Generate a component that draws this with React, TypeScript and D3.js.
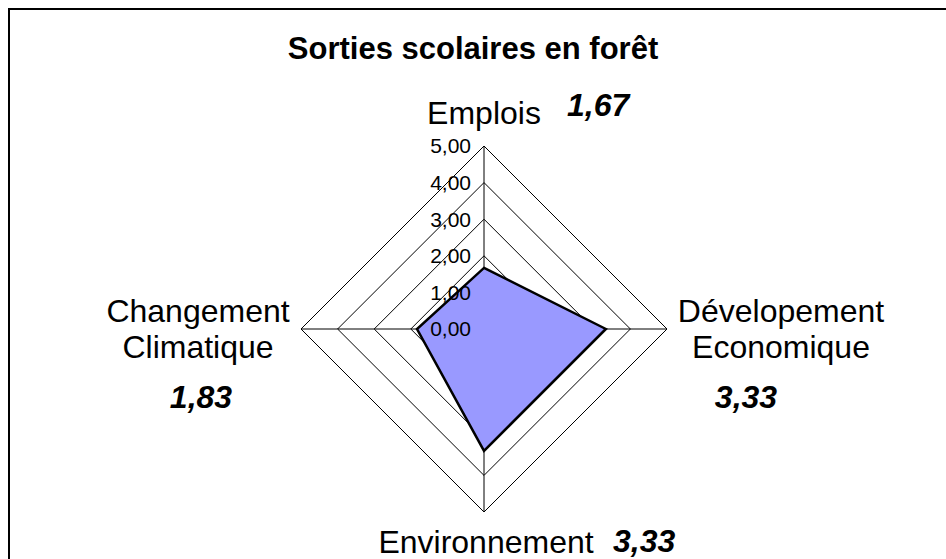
import React from "react";
import * as d3 from "d3";

const title = "Sorties scolaires en forêt";
const categories = [["Emplois"], ["Dévelopement", "Economique"], ["Environnement"], ["Changement", "Climatique"]];
const values = [1.67, 3.33, 3.33, 1.83];
const tickValues = [0, 1, 2, 3, 4, 5];

const W = 946;
const H = 559;
const cx = 484;
const cy = 329;
const R = 183;

// layout for each category label: [label anchor x, first baseline y, value x, value baseline y, value anchor]
const labelLayout: [number, number, number, number, string][] = [
  [484, 124, 567, 116, "start"],
  [781, 322, 746, 408, "middle"],
  [486, 553, 613, 552, "start"],
  [198, 322, 201, 408, "middle"],
];

const fr = d3.formatLocale({ decimal: ",", thousands: " ", grouping: [3], currency: ["", " €"] });
const fmt = fr.format(".2f");

export default function App() {
  const r = d3.scaleLinear().domain([0, 5]).range([0, R]);
  const n = categories.length;
  const angle = d3.scaleLinear().domain([0, n]).range([0, 2 * Math.PI]);
  const radial = d3
    .lineRadial<number>()
    .angle((_, i) => angle(i))
    .radius((d) => r(d))
    .curve(d3.curveLinearClosed);

  const font = "'Liberation Sans', Arial, sans-serif";

  return (
    <svg width={W} height={H} style={{ position: "absolute", left: 0, top: 0, background: "#fff" }} fontFamily={font}>
      <rect x={0} y={0} width={W} height={H} fill="#fff" />
      <rect x={9} y={9} width={2000} height={2000} fill="none" stroke="#000" strokeWidth={2} />
      <text x={473} y={59} textAnchor="middle" fontWeight="bold" fontSize={31}>
        {title}
      </text>
      <g transform={`translate(${cx},${cy})`}>
        {tickValues.slice(1).map((t) => (
          <path key={t} d={radial(categories.map(() => t)) || ""} fill="none" stroke="#000" strokeWidth={1} />
        ))}
        {categories.map((_, i) => {
          const a = angle(i);
          return (
            <line
              key={i}
              x1={0}
              y1={0}
              x2={r(5) * Math.sin(a)}
              y2={-r(5) * Math.cos(a)}
              stroke="#000"
              strokeWidth={1}
            />
          );
        })}
        <path d={radial(values) || ""} fill="#9999FF" stroke="#000" strokeWidth={2.5} strokeLinejoin="miter" />
        {tickValues.map((t) => (
          <text key={t} x={-13} y={-r(t)} dy="0.35em" textAnchor="end" fontSize={21}>
            {fmt(t)}
          </text>
        ))}
      </g>
      {categories.map((lines, i) => {
        const [lx, ly, vx, vy, va] = labelLayout[i];
        return (
          <g key={i}>
            {lines.map((l, j) => (
              <text key={j} x={lx} y={ly + j * 36} textAnchor="middle" fontSize={32}>
                {l}
              </text>
            ))}
            <text x={vx} y={vy} textAnchor={va as any} fontSize={32} fontWeight="bold" fontStyle="italic">
              {fmt(values[i])}
            </text>
          </g>
        );
      })}
    </svg>
  );
}
